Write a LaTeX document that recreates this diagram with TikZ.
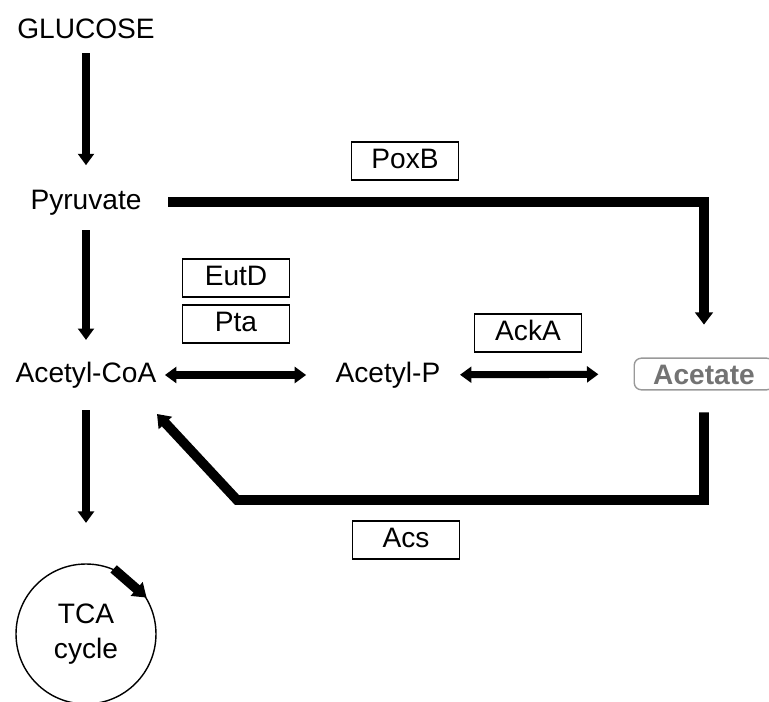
\documentclass[tikz,border=0pt]{standalone}
\usepackage{fontspec}
\setmainfont{Liberation Sans}
\usetikzlibrary{arrows.meta}

\begin{document}
\begin{tikzpicture}[x=0.02cm,y=-0.02cm,
  metab/.style={font=\fontsize{16}{19}\selectfont, text height=12pt, text depth=3.5pt, inner sep=3pt},
  enzyme/.style={metab, draw, line width=0.8pt, minimum width=61pt, minimum height=21.5pt},
  flux/.style={line width=4pt, -{Triangle[width=9pt,length=6.5pt]}},
  revflux/.style={line width=4pt, {Triangle[width=9pt,length=6.5pt]}-{Triangle[width=9pt,length=6.5pt]}},
  route/.style={line width=5.5pt, -{Triangle[width=10pt,length=7pt]}}]

\useasboundingbox (0,0) rectangle (769,702);

%%%%%%%%%%%%    metabolites   %%%%%%%%%%%%
\node[metab] (glc) at (86,31) {GLUCOSE};
\node[metab] (pyr) at (86,202) {Pyruvate};
\node[metab] (acoa) at (86,375) {Acetyl-CoA};
\node[metab] (acp) at (388,375) {Acetyl-P};
\node[metab, draw=black!40, text=black!55, font=\fontsize{16}{19}\selectfont\bfseries, rounded corners=4pt, line width=0.8pt, text depth=0pt, minimum width=79.4pt] (ace) at (704,374) {Acetate};
\node[draw, circle, line width=0.8pt, minimum size=2.8cm, inner sep=0pt, align=center, font=\fontsize{16}{20}\selectfont] (tca) at (86,634) {TCA\\cycle};

\coordinate (acsturn) at (237,500);
\coordinate (acsend) at (157,414);

%%%%%%%%%%%%    enzymes   %%%%%%%%%%%%
\node[enzyme] (poxb) at (405,161) {PoxB};
\node[enzyme] (eutd) at (236,278) {EutD};
\node[enzyme] (pta) at (236,324) {Pta};
\node[enzyme] (acka) at (528,333) {AckA};
\node[enzyme] (acs) at (406,540) {Acs};

% main line
\draw[flux, shorten <=1.7pt, shorten >=10pt] (glc) -- (pyr);
\draw[flux, shorten <=5pt, shorten >=9pt] (pyr) -- (acoa);
\draw[flux, shorten <=9pt, shorten >=23pt] (acoa) -- (tca);

% reversible steps
\draw[revflux, shorten <=1.7pt, shorten >=13.6pt] (acoa) -- (acp);
\draw[revflux, shorten <=8pt, shorten >=20pt] (acp) -- (ace);

% PoxB and Acs
\draw[route, shorten <=12pt, shorten >=18.7pt] (pyr.east) -| (ace.north);
\draw[route, shorten <=12.5pt] (ace.south) |- (acsturn) -- (acsend);

% cycle
\draw[line width=5.5pt, -{Triangle[width=10pt,length=7.5pt]}] (tca.67) -- (tca.31);

\end{tikzpicture}
\end{document}
